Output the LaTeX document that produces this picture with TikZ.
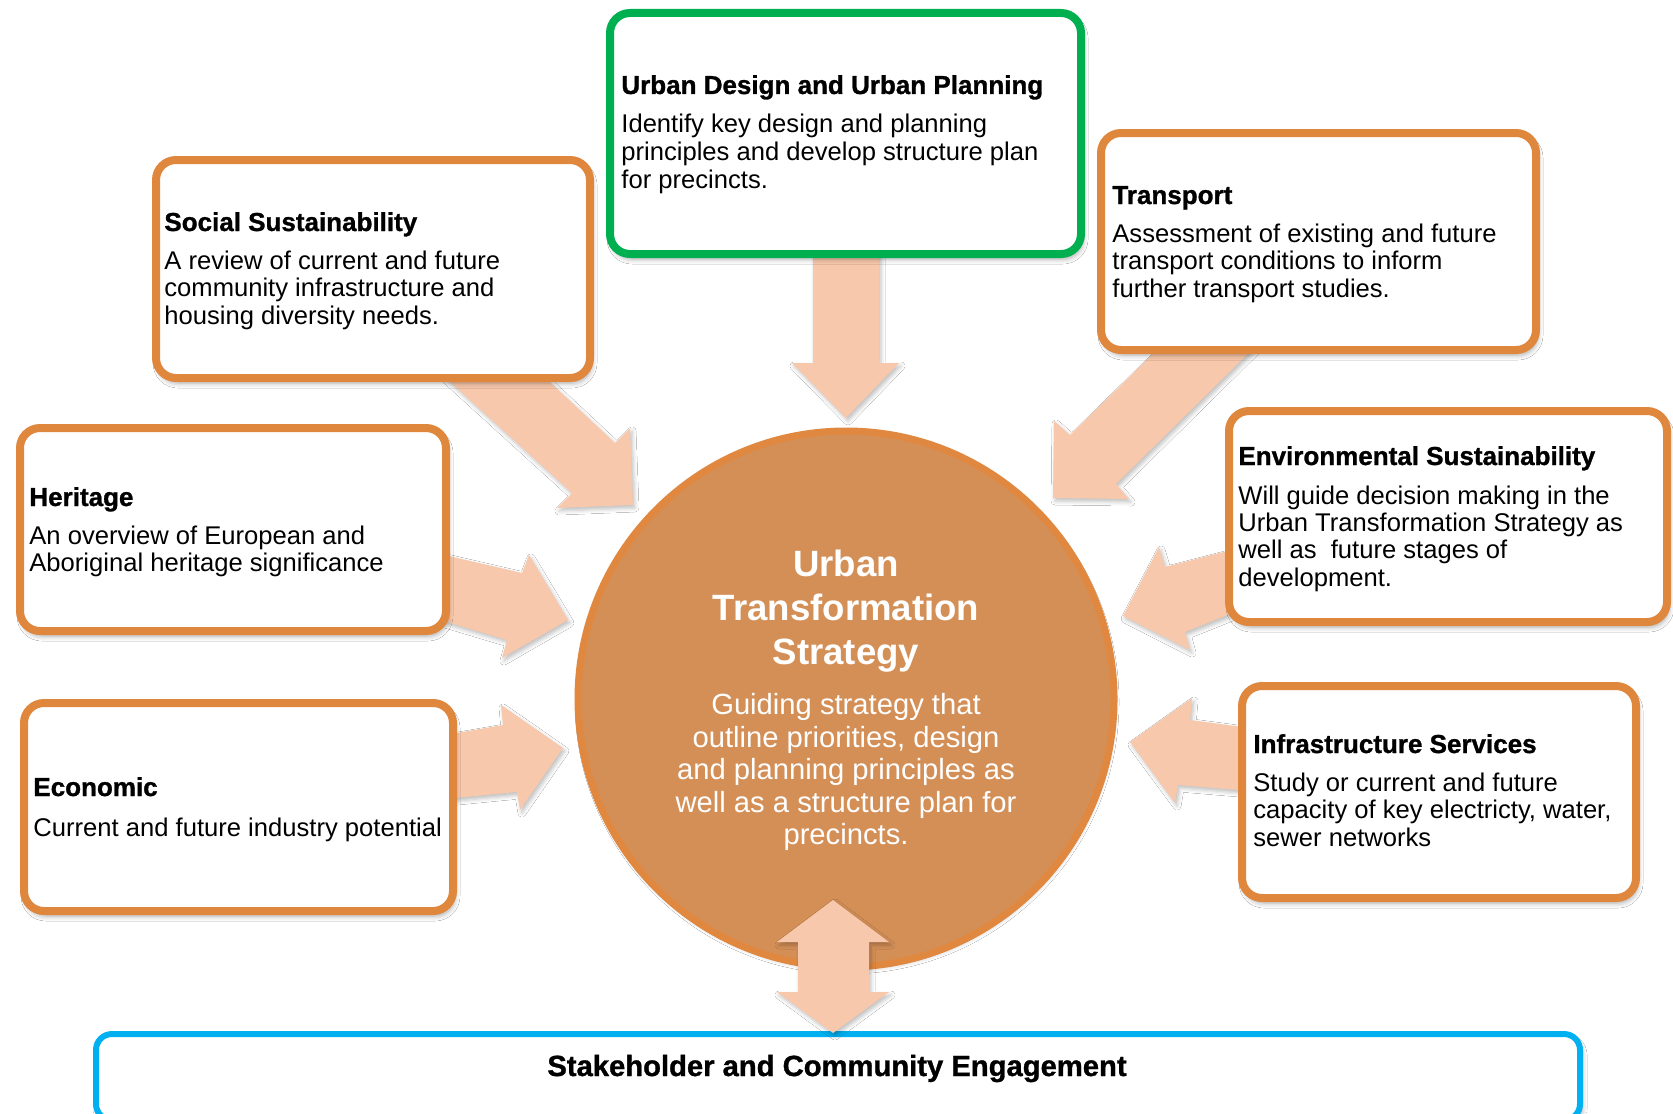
\documentclass[tikz,border=0pt]{standalone}
\usepackage{fontspec}
\setmainfont{Liberation Sans}
\newfontfamily\heavyfont[UprightFeatures={FakeBold=1.1}, BoldFeatures={FakeBold=1.1}]{Liberation Sans}
\usetikzlibrary{shadows.blur}
\definecolor{boxorange}{HTML}{E0873E}
\definecolor{boxgreen}{HTML}{00B050}
\definecolor{boxcyan}{HTML}{00B0F0}
\definecolor{peach}{HTML}{F8C8AC}
\definecolor{corefill}{HTML}{D48F57}
\definecolor{coreline}{HTML}{E0883F}

\newcommand\ptext[7]{%
  \node[headtxt] (#1h) at (#2,#3) {#4};
  \foreach \lineitem [count=\i] in {#7}
    \node[bodytxt] (#1l\i) at (#2,{#5+(\i-1)*#6}) {\lineitem};
}

\begin{document}
\begin{tikzpicture}[x=0.5pt,y=-0.5pt,
  panel/.style={draw=boxorange, line width=4pt, fill=white, rounded corners=10pt, inner sep=0pt,
    blur shadow={shadow xshift=1pt, shadow yshift=-2.5pt, shadow blur radius=2.5pt, shadow opacity=35}},
  arrowshape/.style={fill=peach,
    blur shadow={shadow xshift=1pt, shadow yshift=-1.5pt, shadow blur radius=2pt, shadow opacity=25}},
  headtxt/.style={anchor=base west, inner sep=0pt, font=\fontsize{13}{15}\heavyfont\bfseries},
  bodytxt/.style={anchor=base west, inner sep=0pt, font=\fontsize{12.8}{14}\selectfont},
  corehead/.style={anchor=base, inner sep=0pt, text=white, font=\fontsize{18.3}{20}\selectfont\bfseries},
  corebody/.style={anchor=base, inner sep=0pt, text=white, font=\fontsize{14.6}{16}\selectfont},
]
\useasboundingbox (0,0) rectangle (1673,1113);
\fill[white] (0,0) rectangle (1673,1113);

% central circle
\node[circle, fill=corefill, draw=coreline, line width=3.5pt, minimum size=268pt, inner sep=0pt,
  blur shadow={shadow xshift=0.5pt, shadow yshift=-1.5pt, shadow blur radius=2pt, shadow opacity=20}] (core) at (846,699) {};

% block arrows (drawn under the panels)
\fill[arrowshape] (813,250) -- (879,250) -- (879,363) -- (899,363) -- (846,418) -- (792,363) -- (813,363) -- cycle;
\fill[arrowshape] (438,371) -- (538,371) -- (615,443) -- (630,428) -- (633,505) -- (557,508) -- (572,493) -- cycle;
\fill[arrowshape] (1165,342) -- (1260,342) -- (1116,484) -- (1129,499) -- (1053,498) -- (1054,421) -- (1070,435) -- cycle;
\fill[arrowshape] (440,554) -- (522,573) -- (529,555) -- (568,620) -- (502,658) -- (507,640) -- (440,620) -- cycle;
\fill[arrowshape] (445,735) -- (503,725) -- (501,705) -- (563,748) -- (520,810) -- (517,792) -- (445,799) -- cycle;
\fill[arrowshape] (1235,549) -- (1165,567) -- (1159,547) -- (1123,616) -- (1190,650) -- (1185,632) -- (1235,612) -- cycle;
\fill[arrowshape] (1250,728) -- (1190,720) -- (1192,698) -- (1130,742) -- (1175,803) -- (1178,785) -- (1250,791) -- cycle;

% panels
\node[panel, draw=boxgreen, minimum width=235.5pt, minimum height=120.5pt] (urb) at (845.5,133.5) {};
\node[panel, minimum width=217pt, minimum height=109pt] (soc) at (373,269) {};
\node[panel, minimum width=217.5pt, minimum height=108.5pt] (tra) at (1318.5,241.5) {};
\node[panel, minimum width=219pt, minimum height=105.5pt] (env) at (1448,516.5) {};
\node[panel, minimum width=213pt, minimum height=101.5pt] (her) at (233,529.5) {};
\node[panel, minimum width=214.5pt, minimum height=104pt] (eco) at (238.5,807) {};
\node[panel, minimum width=197pt, minimum height=106pt] (inf) at (1439,792) {};
\node[panel, draw=boxcyan, line width=3pt, rounded corners=8pt, minimum width=742pt, minimum height=43pt] (stk) at (838,1077) {};

% bottom two-way arrow
\fill[arrowshape] (833,900) -- (889,942) -- (869,942) -- (869,992) -- (889,992) -- (833,1033) -- (777,992) -- (798,992) -- (798,942) -- (777,942) -- cycle;

% panel texts
\ptext{urbt}{621}{94}{Urban Design and Urban Planning}{133}{27.5}{Identify key design and planning, principles and develop structure plan, for precincts.}
\ptext{soct}{164}{231}{Social Sustainability}{269}{27.5}{A review of current and future, community infrastructure and, housing diversity needs.}
\ptext{trat}{1112}{204}{Transport}{242}{27.5}{Assessment of existing and future, transport conditions to inform, further transport studies.}
\ptext{envt}{1238}{465}{Environmental Sustainability}{504}{27.4}{Will guide decision making in the, Urban Transformation Strategy as, well as\ \ future stages of, development.}
\ptext{hert}{29}{506}{Heritage}{544}{27.5}{An overview of European and, Aboriginal heritage significance}
\ptext{ecot}{33}{796}{Economic}{836}{27.5}{Current and future industry potential}
\ptext{inft}{1253}{753}{Infrastructure Services}{791}{27.5}{Study or current and future, {capacity of key electricty, water,}, sewer networks}

% core texts
\node[corehead] (c1) at (846,576) {Urban};
\node[corehead] (c2) at (846,620) {Transformation};
\node[corehead] (c3) at (846,664) {Strategy};
\node[corebody] (c4) at (846,714) {Guiding strategy that};
\node[corebody] (c5) at (846,747) {outline priorities, design};
\node[corebody] (c6) at (846,779) {and planning principles as};
\node[corebody] (c7) at (846,812) {well as a structure plan for};
\node[corebody] (c8) at (846,844) {precincts.};

% stakeholder text
\node[anchor=base, inner sep=0pt, font=\fontsize{14.6}{16}\heavyfont\bfseries] (stkt) at (837,1076) {Stakeholder and Community Engagement};
\end{tikzpicture}
\end{document}
